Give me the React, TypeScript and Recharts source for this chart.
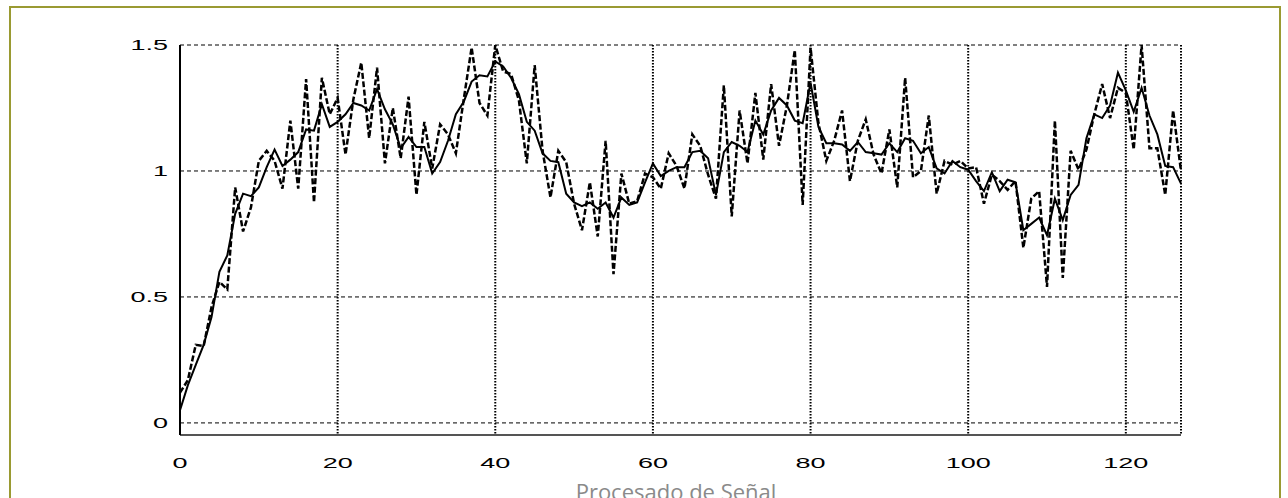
import { CartesianGrid, Line, LineChart, XAxis, YAxis } from "recharts";

// noisy measurement (dashed) and filtered estimate (solid), one value per sample 0..127
const measured = [
  0.12, 0.17, 0.31, 0.305, 0.46, 0.56, 0.53, 0.935, 0.76, 0.855,
  1.04, 1.08, 1.04, 0.93, 1.2, 0.93, 1.365, 0.875, 1.37, 1.225,
  1.29, 1.065, 1.285, 1.43, 1.13, 1.41, 1.03, 1.25, 1.05, 1.295,
  0.905, 1.195, 1.01, 1.185, 1.145, 1.07, 1.285, 1.49, 1.27, 1.22,
  1.5, 1.395, 1.385, 1.28, 1.03, 1.42, 1.08, 0.895, 1.08, 1.035,
  0.87, 0.765, 0.955, 0.74, 1.12, 0.59, 0.99, 0.87, 0.88, 0.99,
  0.975, 0.93, 1.07, 1.02, 0.93, 1.145, 1.1, 0.985, 0.89, 1.34,
  0.82, 1.24, 1.03, 1.31, 1.045, 1.345, 1.1, 1.26, 1.48, 0.865,
  1.49, 1.19, 1.04, 1.12, 1.24, 0.96, 1.12, 1.205, 1.065, 0.99,
  1.165, 0.935, 1.37, 0.975, 1.0, 1.22, 0.91, 1.04, 1.025, 1.04,
  1.01, 1.015, 0.87, 0.985, 0.96, 0.925, 0.96, 0.695, 0.89, 0.92,
  0.54, 1.2, 0.575, 1.08, 1.005, 1.085, 1.225, 1.345, 1.21, 1.33,
  1.31, 1.085, 1.5, 1.09, 1.09, 0.905, 1.24, 1.0,
];

const filtered = [
  0.05, 0.15, 0.23, 0.31, 0.42, 0.6, 0.665, 0.83, 0.91, 0.9,
  0.935, 1.015, 1.085, 1.02, 1.045, 1.075, 1.165, 1.16, 1.265, 1.175,
  1.195, 1.225, 1.27, 1.26, 1.24, 1.325, 1.245, 1.185, 1.09, 1.135,
  1.095, 1.095, 0.99, 1.035, 1.12, 1.225, 1.275, 1.355, 1.38, 1.375,
  1.435, 1.415, 1.37, 1.305, 1.195, 1.16, 1.07, 1.04, 1.035, 0.91,
  0.875, 0.86, 0.875, 0.85, 0.875, 0.815, 0.895, 0.865, 0.875, 0.955,
  1.03, 0.98, 1.0, 1.015, 1.015, 1.075, 1.08, 1.05, 0.905, 1.075,
  1.115, 1.1, 1.075, 1.2, 1.145, 1.24, 1.29, 1.26, 1.2, 1.19,
  1.35, 1.175, 1.11, 1.11, 1.105, 1.08, 1.115, 1.075, 1.07, 1.065,
  1.11, 1.075, 1.13, 1.12, 1.07, 1.095, 1.01, 0.99, 1.04, 1.015,
  1.005, 0.96, 0.92, 0.995, 0.92, 0.965, 0.955, 0.765, 0.79, 0.815,
  0.745, 0.89, 0.805, 0.905, 0.945, 1.13, 1.225, 1.21, 1.26, 1.39,
  1.32, 1.235, 1.33, 1.22, 1.145, 1.02, 1.015, 0.95,
];

const xTicks = [0, 20, 40, 60, 80, 100, 120];
const yTicks = [0, 0.5, 1, 1.5];
const footer = "Procesado de Señal";

const data = measured.map((z, n) => ({ n, z, est: filtered[n] }));

// matlab-ish stretched tick labels
const YTick = ({ x, y, payload }: any) => (
  <text
    transform={`translate(${x},${y}) scale(1.8,1)`}
    textAnchor="end"
    dominantBaseline="central"
    fontSize={15}
    fontFamily="'Liberation Sans', Arial, sans-serif"
    fill="#000"
  >
    {payload.value}
  </text>
);

const XTick = ({ x, y, payload }: any) => (
  <text
    transform={`translate(${x},${y}) scale(1.8,1)`}
    textAnchor="middle"
    dominantBaseline="central"
    fontSize={15}
    fontFamily="'Liberation Sans', Arial, sans-serif"
    fill="#000"
  >
    {payload.value}
  </text>
);

export default function App() {
  return (
    <div style={{ position: "relative", width: 1288, height: 498, overflow: "hidden", background: "#fff" }}>
      <style>{`body{margin:0}`}</style>
      <div
        style={{
          position: "absolute",
          left: 9,
          top: 6,
          width: 1268,
          height: 540,
          border: "2px solid #9a9a32",
        }}
      />
      <div style={{ position: "absolute", left: 0, top: 0 }}>
        <LineChart
          width={1288}
          height={498}
          data={data}
          margin={{ top: 45, right: 107, left: 0, bottom: 33 }}
        >
          <CartesianGrid
            vertical={false}
            stroke="#000"
            strokeDasharray="4 3"
            strokeWidth={1}
          />
          <CartesianGrid
            horizontal={false}
            stroke="#000"
            strokeDasharray="1.5 1.5"
            strokeWidth={2}
          />
          <XAxis
            dataKey="n"
            type="number"
            domain={[0, 127]}
            ticks={xTicks}
            height={30}
            tickLine={false}
            tickSize={0}
            tickMargin={28}
            axisLine={{ stroke: "#555", strokeWidth: 2 }}
            tick={<XTick />}
          />
          <YAxis
            type="number"
            domain={[-0.048, 1.5]}
            allowDataOverflow
            ticks={yTicks}
            width={180}
            tickLine={false}
            tickSize={0}
            tickMargin={12}
            axisLine={{ stroke: "#000", strokeWidth: 2 }}
            tick={<YTick />}
          />
          <Line
            type="linear"
            dataKey="z"
            stroke="#000"
            strokeWidth={2.5}
            strokeDasharray="6 2.5"
            dot={false}
            isAnimationActive={false}
          />
          <Line
            type="linear"
            dataKey="est"
            stroke="#000"
            strokeWidth={2}
            dot={false}
            isAnimationActive={false}
          />
        </LineChart>
      </div>
      <svg
        width={1288}
        height={498}
        style={{ position: "absolute", left: 0, top: 0, pointerEvents: "none" }}
      >
        <text
          x={676}
          y={500}
          textAnchor="middle"
          fontSize={22}
          fontFamily="'Open Sans', sans-serif"
          fill="#8a8a8a"
        >
          {footer}
        </text>
      </svg>
    </div>
  );
}
